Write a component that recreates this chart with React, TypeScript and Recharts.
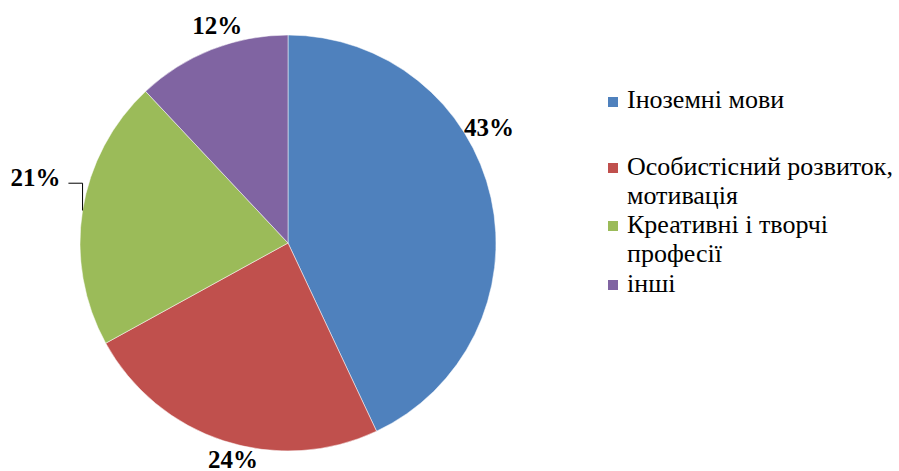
import React from 'react';
import { PieChart, Pie, Cell, Legend } from 'recharts';

const categories = ['Іноземні мови', 'Особистісний розвиток, мотивація', 'Креативні і творчі професії', 'інші'];
const values = [43, 24, 21, 12];
const colors = ['#4F81BD', '#C0504D', '#9BBB59', '#8064A2'];

const labelShift = [
  { dTheta: -17.4, r: 232, leader: false },
  { dTheta: -3.7, r: 223, leader: false },
  { dTheta: 5.6, r: 261, leader: true },
  { dTheta: 3.6, r: 229, leader: false },
];

// legend slot heights (px)
const legendSlots = [66.5, 58, 59, 30];

const data = categories.map((name, i) => ({ name, value: values[i] }));

const RAD = Math.PI / 180;
const SERIF = "'Liberation Serif', 'DejaVu Serif', serif";

const renderLabel = (props: any) => {
  const { cx, cy, midAngle, outerRadius, index, value } = props;
  const s = labelShift[index];
  const theta = 90 - midAngle;
  const t = (theta + s.dTheta) * RAD;
  const x = cx + s.r * Math.sin(t);
  const y = cy - s.r * Math.cos(t);
  let leader = null;
  if (s.leader) {
    const tm = theta * RAD;
    const ex = cx + outerRadius * Math.sin(tm);
    const ey = cy - outerRadius * Math.cos(tm);
    const ly = y + 6;
    leader = (
      <path d={`M${ex},${ey} L${ex},${ly} L${x + 33},${ly}`} stroke="#000" strokeWidth={1} fill="none" />
    );
  }
  return (
    <g key={`lbl-${index}`}>
      {leader}
      <text
        x={x}
        y={y}
        textAnchor="middle"
        dominantBaseline="central"
        style={{ fontFamily: SERIF, fontWeight: 'bold', fontSize: 25 }}
        fill="#000"
      >
        {`${value}%`}
      </text>
    </g>
  );
};

const renderLegend = () => (
  <div style={{ fontFamily: SERIF, fontSize: 26, color: '#000' }}>
    {categories.map((name, i) => (
      <div key={name} style={{ height: legendSlots[i], display: 'flex', alignItems: 'flex-start' }}>
        <div
          style={{
            width: 10,
            height: 10,
            background: colors[i],
            marginTop: 11.5,
            marginRight: 9,
            flex: '0 0 auto',
          }}
        />
        <div style={{ lineHeight: '29px', width: 282 }}>{name}</div>
      </div>
    ))}
  </div>
);

export default function App() {
  return (
    <div style={{ position: 'absolute', left: 0, top: 0, width: 899, height: 471, overflow: 'hidden', background: '#fff' }}>
      <PieChart width={899} height={471} margin={{ top: 0, right: 0, bottom: 0, left: 0 }}>
        <Pie
          data={data}
          dataKey="value"
          nameKey="name"
          cx={288}
          cy={243}
          outerRadius={208}
          startAngle={90}
          endAngle={-270}
          stroke="#ffffff"
          strokeWidth={0.5}
          label={renderLabel}
          labelLine={false}
          isAnimationActive={false}
        >
          {data.map((d, i) => (
            <Cell key={d.name} fill={colors[i]} />
          ))}
        </Pie>
        <Legend
          layout="vertical"
          verticalAlign="top"
          align="right"
          content={renderLegend}
          wrapperStyle={{ left: 608, top: 85, width: 300 }}
        />
      </PieChart>
    </div>
  );
}
